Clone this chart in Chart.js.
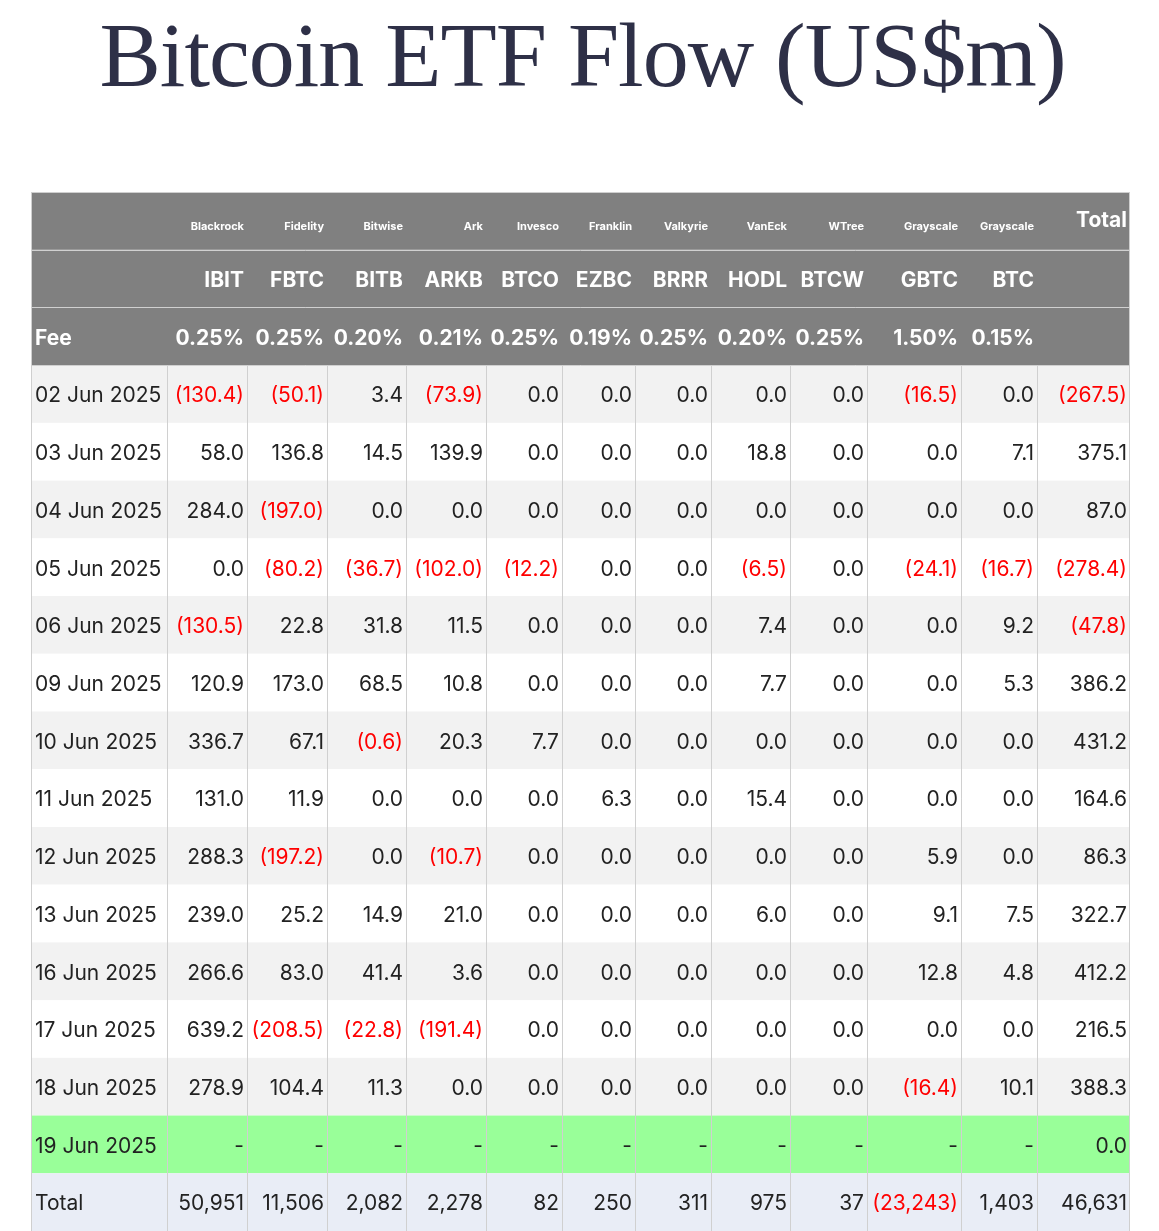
<!DOCTYPE html>
<html>
<head>
<meta charset="utf-8">
<script src="https://cdn.jsdelivr.net/npm/chart.js@4"></script>
<style>
  body { margin: 0; background: #fff; width: 1159px; height: 1231px; overflow: hidden; position: relative; }
  h1 { position: absolute; left: 0; width: 1165px; top: 2px; margin: 0; text-align: center;
       font-family: "Liberation Serif", "DejaVu Serif", serif; font-weight: normal;
       font-size: 92px; color: #2e3047; letter-spacing: -1px; }
  #wrap { position: absolute; left: 31px; top: 192px; width: 1099px; height: 1039px; }
</style>
</head>
<body>
<h1>Bitcoin ETF Flow (US$m)</h1>
<div id="wrap"><canvas id="tbl"></canvas></div>
<script>
// Dados da tabela
const issuers = ['Blackrock', 'Fidelity', 'Bitwise', 'Ark', 'Invesco', 'Franklin', 'Valkyrie', 'VanEck', 'WTree', 'Grayscale', 'Grayscale'];
const tickers = ['IBIT', 'FBTC', 'BITB', 'ARKB', 'BTCO', 'EZBC', 'BRRR', 'HODL', 'BTCW', 'GBTC', 'BTC'];
const fees = ['0.25%', '0.25%', '0.20%', '0.21%', '0.25%', '0.19%', '0.25%', '0.20%', '0.25%', '1.50%', '0.15%'];
const dates = ['02 Jun 2025', '03 Jun 2025', '04 Jun 2025', '05 Jun 2025', '06 Jun 2025', '09 Jun 2025',
  '10 Jun 2025', '11 Jun 2025', '12 Jun 2025', '13 Jun 2025', '16 Jun 2025', '17 Jun 2025', '18 Jun 2025'];
// 11 ETFs + total
const flows = [
  [-130.4, -50.1, 3.4, -73.9, 0, 0, 0, 0, 0, -16.5, 0, -267.5],
  [58.0, 136.8, 14.5, 139.9, 0, 0, 0, 18.8, 0, 0, 7.1, 375.1],
  [284.0, -197.0, 0, 0, 0, 0, 0, 0, 0, 0, 0, 87.0],
  [0, -80.2, -36.7, -102.0, -12.2, 0, 0, -6.5, 0, -24.1, -16.7, -278.4],
  [-130.5, 22.8, 31.8, 11.5, 0, 0, 0, 7.4, 0, 0, 9.2, -47.8],
  [120.9, 173.0, 68.5, 10.8, 0, 0, 0, 7.7, 0, 0, 5.3, 386.2],
  [336.7, 67.1, -0.6, 20.3, 7.7, 0, 0, 0, 0, 0, 0, 431.2],
  [131.0, 11.9, 0, 0, 0, 6.3, 0, 15.4, 0, 0, 0, 164.6],
  [288.3, -197.2, 0, -10.7, 0, 0, 0, 0, 0, 5.9, 0, 86.3],
  [239.0, 25.2, 14.9, 21.0, 0, 0, 0, 6.0, 0, 9.1, 7.5, 322.7],
  [266.6, 83.0, 41.4, 3.6, 0, 0, 0, 0, 0, 12.8, 4.8, 412.2],
  [639.2, -208.5, -22.8, -191.4, 0, 0, 0, 0, 0, 0, 0, 216.5],
  [278.9, 104.4, 11.3, 0, 0, 0, 0, 0, 0, -16.4, 10.1, 388.3]
];
const pendingDate = '19 Jun 2025';
const pendingTotal = 0.0;
const totals = [50951, 11506, 2082, 2278, 82, 250, 311, 975, 37, -23243, 1403, 46631];

// Layout (larguras das colunas em px)
const colWidths = [136, 80, 80, 79, 80, 76, 73, 76, 79, 77, 94, 76, 93];
const colEdges = [0];
colWidths.forEach(w => colEdges.push(colEdges[colEdges.length - 1] + w));

const rowKeys = ['h1', 'h2', 'h3', ...dates, pendingDate, 'Total'];
const FONT = 'Inter, "Noto Sans", sans-serif';

function fmt(v, dec) {
  const s = Math.abs(v).toLocaleString('en-US', { minimumFractionDigits: dec, maximumFractionDigits: dec });
  return v < 0 ? '(' + s + ')' : s;
}

const tablePlugin = {
  id: 'tablePlugin',
  afterDraw(chart) {
    const ctx = chart.ctx;
    const xs = chart.scales.x, ys = chart.scales.y;
    const rowH = (ys.bottom - ys.top) / rowKeys.length;
    const xL = i => xs.getPixelForValue(colEdges[i]);
    const xR = i => xs.getPixelForValue(colEdges[i + 1]);
    const rowTop = r => ys.getPixelForValue(r) - rowH / 2;
    const nCols = colWidths.length;

    ctx.save();
    ctx.textBaseline = 'middle';

    rowKeys.forEach((key, r) => {
      const top = rowTop(r), cy = top + rowH / 2;
      let bg = '#ffffff';
      if (r < 3) bg = '#808080';
      else if (key === pendingDate) bg = '#99ff99';
      else if (key === 'Total') bg = '#e9edf6';
      else if ((r - 3) % 2 === 0) bg = '#f2f2f2';
      ctx.fillStyle = bg;
      ctx.fillRect(xs.left, top, xs.right - xs.left, rowH);

      for (let c = 0; c < nCols; c++) {
        let text = '', color = '#222', font = '21px ' + FONT, align = 'right';
        const v = c - 1;
        if (r === 0) {
          color = '#fff';
          if (c >= 1 && c <= 11) { text = issuers[v]; font = 'bold 11px ' + FONT; }
          if (c === 12) { text = 'Total'; font = 'bold 21px ' + FONT; }
        } else if (r === 1) {
          color = '#fff'; font = 'bold 21px ' + FONT;
          if (c >= 1 && c <= 11) text = tickers[v];
        } else if (r === 2) {
          color = '#fff'; font = 'bold 21px ' + FONT;
          if (c === 0) { text = 'Fee'; align = 'left'; }
          else if (c <= 11) text = fees[v];
        } else if (key === pendingDate) {
          if (c === 0) { text = key; align = 'left'; }
          else if (c <= 11) text = '-';
          else text = pendingTotal.toFixed(1);
        } else if (key === 'Total') {
          if (c === 0) { text = 'Total'; align = 'left'; }
          else { text = fmt(totals[v], 0); if (totals[v] < 0) color = '#ff0000'; }
        } else {
          const row = flows[r - 3];
          if (c === 0) { text = key; align = 'left'; }
          else { text = fmt(row[v], 1); if (row[v] < 0) color = '#ff0000'; }
        }
        ctx.font = font; ctx.fillStyle = color; ctx.textAlign = align;
        const ty = r === 0 && c < 12 ? cy + 6 : (r === 0 ? cy : cy + 2);
        if (align === 'left') ctx.fillText(text, xL(c) + 4, ty);
        else ctx.fillText(text, xR(c) - 3, ty);
      }
    });

    // linhas do cabeçalho
    ctx.strokeStyle = '#d0d0d0';
    ctx.lineWidth = 1;
    const hBottom = rowTop(3);
    for (let c = 1; c < nCols; c++) {
      ctx.beginPath(); ctx.moveTo(Math.round(xL(c)) + 0.5, xs.top); ctx.lineTo(Math.round(xL(c)) + 0.5, hBottom); ctx.stroke();
    }
    for (let r = 1; r <= 3; r++) {
      const y = Math.round(rowTop(r)) + 0.5;
      ctx.beginPath(); ctx.moveTo(xs.left, y); ctx.lineTo(xs.right, y); ctx.stroke();
    }
    ctx.strokeStyle = '#cfcfcf';
    ctx.strokeRect(xs.left + 0.5, ys.top + 0.5, xs.right - xs.left - 1, ys.bottom - ys.top);
    ctx.restore();
  }
};

new Chart(document.getElementById('tbl').getContext('2d'), {
  type: 'scatter',
  data: { labels: rowKeys, datasets: [{ data: [], pointRadius: 0 }] },
  options: {
    responsive: true,
    maintainAspectRatio: false,
    animation: false,
    layout: { padding: 0 },
    plugins: { legend: { display: false }, tooltip: { enabled: false } },
    scales: {
      x: { type: 'linear', min: 0, max: colEdges[colEdges.length - 1], display: false },
      y: { type: 'category', labels: rowKeys, offset: true, display: false }
    }
  },
  plugins: [tablePlugin]
});
</script>
</body>
</html>
